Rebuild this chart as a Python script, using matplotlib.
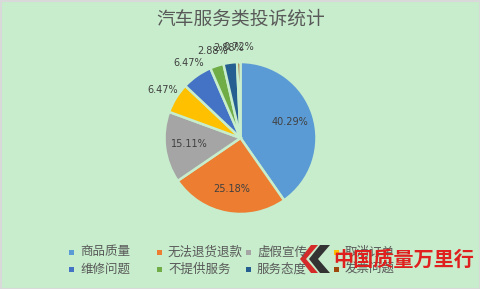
import numpy as np
import matplotlib.pyplot as plt
from matplotlib.patches import Polygon, Rectangle

plt.rcParams['font.family'] = ['Noto Sans CJK SC', 'DejaVu Sans']

# --- data ---
categories = ['商品质量', '无法退货退款', '虚假宣传', '取消订单',
              '维修问题', '不提供服务', '服务态度', '发票问题']
shares = [40.29, 25.18, 15.11, 6.47, 6.47, 2.88, 2.88, 0.72]
colors = ['#5B9BD5', '#ED7D31', '#A5A5A5', '#FFC000',
          '#4472C4', '#70AD47', '#255E91', '#9E480E']
title = '汽车服务类投诉统计'
watermark = '中国质量万里行'

bg = '#C7EDCC'
W, H = 481, 289

fig = plt.figure(figsize=(W / 100, H / 100), dpi=100, facecolor=bg)
ax = fig.add_axes([0, 0, 1, 1])

cx, cy, r = 240.5, H - 138, 76
wedges, _ = ax.pie(shares, colors=colors, startangle=90, counterclock=False,
                   center=(cx, cy), radius=r, frame=True,
                   wedgeprops=dict(edgecolor=bg, linewidth=1.8))
ax.set_xlim(0, W)
ax.set_ylim(0, H)
ax.set_aspect('auto')
ax.axis('off')

# border
ax.add_patch(Rectangle((0.5, 0.5), W - 1, H - 1, fill=False, ec='#D9D9D9', lw=1.5))

# percentage labels: inside for big slices, outside for small ones
for w, s in zip(wedges, shares):
    mid = np.radians((w.theta1 + w.theta2) / 2)
    d = 0.68 if s > 10 else 1.2
    ax.text(cx + d * r * np.cos(mid), cy + d * r * np.sin(mid), f'{s:.2f}%',
            ha='center', va='center', fontsize=7, color='#404040',
            family='DejaVu Sans')

ax.text(W / 2, H - 19, title, ha='center', va='center',
        fontsize=13.5, color='#595959')

# legend, 4 columns x 2 rows
col_x = [72, 160, 249, 337]
row_y = [H - 252, H - 269]
for i, (name, c) in enumerate(zip(categories, colors)):
    x = col_x[i % 4]
    y = row_y[i // 4]
    ax.add_patch(Rectangle((x - 2.5, y - 2.5), 5, 5, color=c, lw=0))
    ax.text(x + 8, y, name, ha='left', va='center', fontsize=9, color='#595959')

# watermark logo
ax.add_patch(Polygon([[318, H - 245], [306, H - 259], [318, H - 273], [311, H - 273],
                      [300, H - 259], [311, H - 245]], closed=True, color='#D42A2A', lw=0))
ax.add_patch(Polygon([[330, H - 245], [318, H - 259], [330, H - 273], [320, H - 273],
                      [309, H - 259], [320, H - 245]], closed=True, color='#333333', lw=0))
ax.text(333, H - 259, watermark, ha='left', va='center', fontsize=14.5,
        color='#E0201F', fontweight='bold', style='italic')

fig.savefig('out.png', dpi=100, facecolor=bg)
